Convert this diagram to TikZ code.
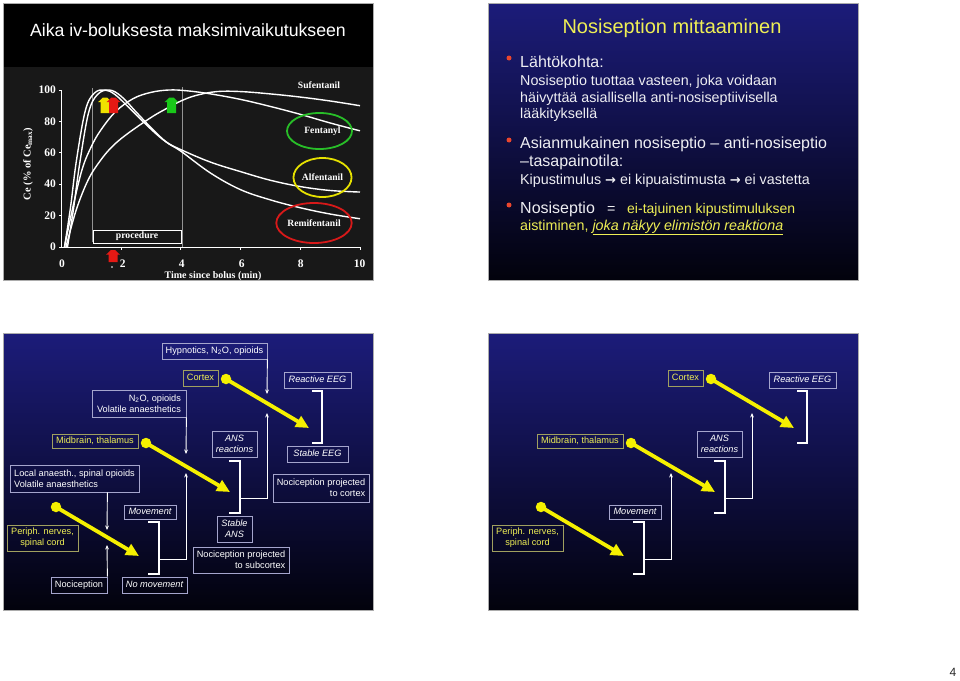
\documentclass[tikz,border=0pt]{standalone}
\usepackage{fontspec}
\setmainfont{Liberation Sans}
\newfontfamily\timesf{Liberation Serif}
\newfontfamily\djv{DejaVu Sans}
\usetikzlibrary{arrows.meta,shapes.geometric,calc}

\definecolor{navy}{RGB}{28,28,122}
\definecolor{dk}{RGB}{2,2,12}
\definecolor{ylw}{RGB}{238,238,85}
\definecolor{yarr}{RGB}{245,240,0}
\definecolor{wbord}{RGB}{165,165,205}
\definecolor{ybord}{RGB}{160,160,95}
\definecolor{plotbg}{RGB}{24,24,24}
\definecolor{bulred}{RGB}{235,70,45}
\definecolor{txtw}{RGB}{238,238,242}
\definecolor{elg}{RGB}{40,190,40}
\definecolor{ely}{RGB}{230,225,0}
\definecolor{elr}{RGB}{215,25,25}
\definecolor{arry}{RGB}{240,225,0}
\definecolor{arrr}{RGB}{230,25,20}
\definecolor{arrg}{RGB}{25,200,25}

\newcommand\blockup[4]{%
  \fill[#1] ({#2-4.5},#4) -- ({#2+4.5},#4) -- ({#2+4.5},{#3+4.5}) -- ({#2+6.8},{#3+4.5}) -- ({#2+2},#3) -- ({#2-2},#3) -- ({#2-6.8},{#3+4.5}) -- ({#2-4.5},{#3+4.5}) -- cycle;}

% box from corners: style, name, x1, y1, x2, y2, text
\newcommand\bx[7]{%
  \pgfmathsetmacro\bxcx{(#3+#5)/2}\pgfmathsetmacro\bxcy{(#4+#6)/2}%
  \pgfmathsetmacro\bxw{#5-#3}\pgfmathsetmacro\bxh{#6-#4}%
  \node[#1, minimum width=\bxw pt, minimum height=\bxh pt] (#2) at (\bxcx,\bxcy) {#7};}

\newcommand\commonparts[1]{%
  \bx{ybox,one}{cortex#1}{183}{370}{218}{386}{Cortex}
  \bx{wibox,one}{reeeg#1}{284}{372}{351}{388}{Reactive EEG}
  \coordinate (eegt#1) at (312,391);
  \coordinate (eegb#1) at (312,443);
  \draw[brk] (eegt#1) -- ++(10,0) -- ++(0,52) -- (eegb#1);
  \bx{ybox,one}{mid#1}{52}{434}{138}{448}{Midbrain, thalamus}
  \bx{wibox}{ansr#1}{212}{431}{257}{457}{ANS\\reactions}
  \coordinate (anst#1) at (229,461);
  \coordinate (ansb#1) at (229,513);
  \coordinate (ansm#1) at (240,498);
  \coordinate (ansup#1) at (267,413);
  \draw[brk] (anst#1) -- ++(11,0) -- ++(0,52) -- (ansb#1);
  \draw[warr] (ansm#1) -| (ansup#1);
  \bx{wibox,one}{mov#1}{124}{505}{176}{519}{Movement}
  \coordinate (movt#1) at (148,522);
  \coordinate (movb#1) at (148,574);
  \coordinate (movm#1) at (159,559);
  \coordinate (movup#1) at (186,473);
  \draw[brk] (movt#1) -- ++(11,0) -- ++(0,52) -- (movb#1);
  \draw[warr] (movm#1) -| (movup#1);
  \bx{ybox}{peri#1}{7}{525}{78}{551}{Periph. nerves,\\spinal cord}
  \node[ydot] (cdot#1) at (226,379) {};
  \coordinate (ctip#1) at (309,428);
  \draw[yarrow] (cdot#1.center) -- (ctip#1);
  \node[ydot] (mdot#1) at (146,443) {};
  \coordinate (mtip#1) at (230,492);
  \draw[yarrow] (mdot#1.center) -- (mtip#1);
  \node[ydot] (pdot#1) at (56,507) {};
  \coordinate (ptip#1) at (139,556);
  \draw[yarrow] (pdot#1.center) -- (ptip#1);
}

\begin{document}
\begin{tikzpicture}[x=1pt,y=-1pt,
  wbox/.style={draw=wbord, line width=0.8pt, text=white, inner sep=0pt, font=\fontsize{9.2}{11}\selectfont, align=center},
  wibox/.style={wbox, font=\fontsize{9.2}{11}\selectfont\itshape},
  ybox/.style={wbox, draw=ybord, text=ylw},
  one/.style={text height=6.8pt, text depth=1.9pt},
  yarrow/.style={draw=yarr, line width=3.8pt, -{Triangle[length=13pt,width=12pt]}},
  ydot/.style={fill=yarr, circle, inner sep=0pt, minimum size=10.5pt},
  warr/.style={draw=white, line width=0.9pt, -{Stealth[length=4.5pt,width=3.8pt]}},
  brk/.style={draw=white, line width=1.8pt},
  tick/.style={text=white, inner sep=0pt, font=\timesf\bfseries\fontsize{11.5}{12}\selectfont},
  dlab/.style={text=white, inner sep=0pt, font=\timesf\bfseries\fontsize{9.6}{11}\selectfont},
  curve/.style={draw=white, line width=1.4pt},
  btxt/.style={anchor=base west, inner sep=0pt, text=txtw, font=\fontsize{16}{18}\selectfont},
  stxt/.style={anchor=base west, inner sep=0pt, text=txtw, font=\fontsize{14.3}{17}\selectfont},
  bullet/.style={circle, fill=bulred, inner sep=0pt, minimum size=5pt},
  frame/.style={draw=gray!65, line width=0.6pt}
]
\path[use as bounding box] (0,0) rectangle (960,680);
\fill[white] (0,0) rectangle (960,680);

% ================= Slide 1 (top left) =================
\fill[black] (3,3) rectangle (373,67);
\fill[plotbg] (3,67) rectangle (373,280);
\draw[frame] (3,3) rectangle (373,280);
\node[anchor=base, inner sep=0pt, text=white, font=\fontsize{17.7}{20}\selectfont] (t1) at (188,36) {Aika iv-boluksesta maksimivaikutukseen};

% vertical procedure lines
\draw[gray!85, line width=0.6pt] (92,242) -- (92,88);
\draw[gray!85, line width=0.6pt] (182,247) -- (182,87);
\bx{draw=white, line width=0.9pt, inner sep=0pt, text=white, font=\timesf\bfseries\fontsize{9.7}{11}\selectfont, text height=6.5pt, text depth=2pt}{proc}{93}{230}{181}{243}{procedure}

\begin{scope}[shift={(61.5,247)}, x=29.85pt, y=1.57pt]
  \draw[white, line width=1pt] (0,100) -- (0,0) -- (10,0);
  \foreach \v in {0,20,40,60,80,100} \draw[white, line width=0.9pt] (0,\v) -- ++(-3pt,0);
  \foreach \t in {2,4,6,8,10} \draw[white, line width=0.9pt] (\t,0) -- ++(0,-3pt);
  % Alfentanil
  \draw[curve] plot[smooth, tension=0.6] coordinates {(0.1,0) (0.3,25) (0.5,55) (0.8,87) (1.1,98) (1.45,100) (1.8,97) (2.3,88) (3,75) (3.5,67) (4,62) (5,54) (6,48) (7,42.5) (8,38.5) (9,36) (10,35)};
  % Remifentanil
  \draw[curve] plot[smooth, tension=0.6] coordinates {(0.2,0) (0.4,24) (0.6,52) (0.9,85) (1.2,97) (1.6,100) (2,96) (2.5,86) (3,76) (3.5,67) (4,61) (5,47) (6,36.5) (7,30) (8,25) (9,21) (10,18)};
  % Fentanyl
  \draw[curve] plot[smooth, tension=0.6] coordinates {(0.1,0) (0.4,27) (0.7,50) (1,64) (1.3,74) (1.8,86) (2.4,94.5) (3,98.5) (3.6,100) (4.2,99.5) (5,97.5) (6,94) (7,89.5) (8,84.5) (9,79) (10,74)};
  % Sufentanil
  \draw[curve] plot[smooth, tension=0.6] coordinates {(0.15,0) (0.5,24) (0.9,43) (1.3,55) (1.7,64) (2.2,72) (3,82.5) (3.5,88) (4,93) (4.5,96.5) (5.2,99) (6,99) (7,97.5) (8,95.5) (9,93) (10,90)};
\end{scope}

\foreach \v/\yy in {0/247,20/215.6,40/184.2,60/152.8,80/121.4,100/90}
  \node[tick, anchor=east] (yl\v) at (56,\yy) {\v};
\foreach \v/\xx in {0/62,2/122.7,4/181.7,6/241.7,8/300.7,10/359.5}
  \node[tick] (xl\v) at (\xx,263.5) {\v};
\node[dlab, font=\timesf\bfseries\fontsize{10}{11}\selectfont] (xtit) at (213,276) {Time since bolus (min)};
\node[dlab, rotate=90, font=\timesf\bfseries\fontsize{10.5}{11}\selectfont] (ytit) at (28,164) {Ce (\% of Ce\textsubscript{max})};

\node[dlab] (suf) at (319,85) {Sufentanil};
\node[ellipse, draw=elg, line width=1.8pt, minimum width=65pt, minimum height=36pt, inner sep=0pt, dlab] (fen) at (319.5,131) {\hspace*{6pt}Fentanyl};
\node[ellipse, draw=ely, line width=1.8pt, minimum width=54pt, minimum height=39pt, inner sep=0pt, dlab] (alf) at (322.5,177.5) {Alfentanil};
\node[ellipse, draw=elr, line width=1.8pt, minimum width=66pt, minimum height=40pt, inner sep=0pt, dlab] (rem) at (314,223) {Remifentanil};

\blockup{arry}{105}{97.5}{113}
\blockup{arrr}{113.5}{97.5}{113}
\blockup{arrg}{171.5}{97.5}{113}
\blockup{arrr}{113}{250}{262}
\fill[white] (112,267) circle (0.8);

% ================= Slide 2 (top right) =================
\shade[top color=navy, bottom color=dk] (488,3) rectangle (858,280);
\draw[frame] (488,3) rectangle (858,280);
\node[anchor=base, inner sep=0pt, text=ylw, font=\fontsize{20}{22}\selectfont] (t2) at (672,33) {Nosiseption mittaaminen};
\node[bullet] (b1) at (509,58) {};
\node[btxt] (l1) at (520,67) {Lähtökohta:};
\node[stxt] (l2) at (520,85) {Nosiseptio tuottaa vasteen, joka voidaan};
\node[stxt] (l3) at (520,102) {häivyttää asiallisella anti-nosiseptiivisella};
\node[stxt] (l4) at (520,118) {lääkityksellä};
\node[bullet] (b2) at (509,140) {};
\node[btxt] (l5) at (520,148) {Asianmukainen nosiseptio – anti-nosiseptio};
\node[btxt] (l6) at (520,166) {–tasapainotila:};
\node[stxt] (l7) at (520,184) {Kipustimulus {\djv\bfseries\fontsize{13}{15}\selectfont →} ei kipuaistimusta {\djv\bfseries\fontsize{13}{15}\selectfont →} ei vastetta};
\node[bullet] (b3) at (509,205) {};
\node[btxt] (l8a) at (520,213) {Nosiseptio};
\node[stxt] (l8b) at (607,213) {=};
\node[stxt, text=ylw, font=\fontsize{14}{17}\selectfont] (l8c) at (627,213) {ei-tajuinen kipustimuluksen};
\node[stxt, text=ylw] (l9) at (520,230) {aistiminen, \underline{\itshape joka näkyy elimistön reaktiona}};

% ================= Slide 3 (bottom left) =================
\shade[top color=navy, bottom color=dk] (3,333) rectangle (373,610);
\draw[frame] (3,333) rectangle (373,610);
\bx{wbox,one}{hyp}{162}{343}{267}{359}{Hypnotics, N\textsubscript{2}O, opioids}
\coordinate (hypend) at (267,394);
\draw[warr] (hyp.south east) -- (hypend);
\bx{wibox,one}{seeg}{287}{446}{348}{462}{Stable EEG}
\bx{wbox, align=right}{n2o}{92}{390}{186}{417}{N\textsubscript{2}O, opioids\\Volatile anaesthetics}
\coordinate (n2oend) at (186,454);
\draw[warr] (n2o.south east) -- (n2oend);
\bx{wbox, align=left}{local}{10}{465}{139}{492}{Local anaesth., spinal opioids\\Volatile anaesthetics}
\bx{wbox, align=right}{npc}{273}{474}{369}{502}{Nociception projected\\to cortex}
\bx{wibox}{sans}{217}{516}{252}{542}{Stable\\ANS}
\bx{wbox, align=right}{nps}{193}{547}{289}{573}{Nociception projected\\to subcortex}
\bx{wbox,one}{noc}{51}{577}{107}{593}{Nociception}
\bx{wibox,one}{nomov}{122}{577}{187}{593}{No movement}
\coordinate (locend) at (107,530);
\coordinate (nocend) at (107,545);
\draw[warr] (local.south -| noc.east) -- (locend);
\draw[warr] (noc.north east) -- (nocend);
\commonparts{a}

% ================= Slide 4 (bottom right) =================
\shade[top color=navy, bottom color=dk] (488,333) rectangle (858,610);
\draw[frame] (488,333) rectangle (858,610);
\begin{scope}[shift={(485,0)}]
\commonparts{b}
\end{scope}

\node[inner sep=0pt, text=black!85, font=\fontsize{12}{14}\selectfont] (pnum) at (953,672) {4};
\end{tikzpicture}
\end{document}
